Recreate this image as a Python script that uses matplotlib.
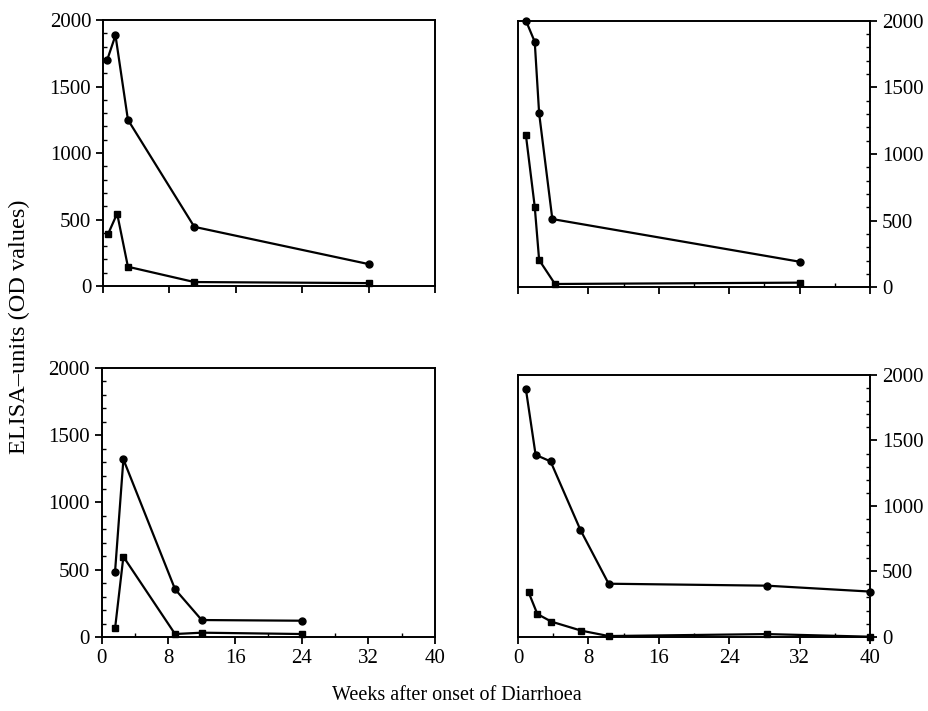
import matplotlib
matplotlib.use("Agg")
import matplotlib.pyplot as plt
from matplotlib.ticker import MultipleLocator

plt.rcParams['font.family'] = ['Liberation Serif', 'DejaVu Serif']

# weeks after onset / ELISA units, one pair of series per patient panel
tl_circ_x = [0.5, 1.5, 3.0, 11.0, 32.0]
tl_circ_y = [1700, 1885, 1250, 445, 165]
tl_sq_x = [0.6, 1.7, 3.0, 11.0, 32.0]
tl_sq_y = [390, 545, 145, 30, 22]

tr_circ_x = [0.9, 1.9, 2.4, 3.9, 32.0]
tr_circ_y = [2000, 1842, 1305, 512, 192]
tr_sq_x = [0.9, 1.9, 2.4, 4.2, 32.0]
tr_sq_y = [1140, 605, 205, 25, 35]

bl_circ_x = [1.6, 2.6, 8.8, 12.0, 24.0]
bl_circ_y = [486, 1321, 355, 126, 121]
bl_sq_x = [1.6, 2.6, 8.8, 12.0, 24.0]
bl_sq_y = [64, 597, 22, 32, 22]

br_circ_x = [0.9, 2.0, 3.7, 7.1, 10.3, 28.3, 40.0]
br_circ_y = [1890, 1390, 1340, 815, 405, 390, 345]
br_sq_x = [1.2, 2.2, 3.8, 7.2, 10.3, 28.3, 40.0]
br_sq_y = [340, 173, 115, 46, 5, 20, 0]

x_ticks = [0, 8, 16, 24, 32, 40]
y_ticks = [0, 500, 1000, 1500, 2000]

fig = plt.figure(figsize=(9.29, 7.11), dpi=100)

panels = [
    ([0.1109, 0.5977, 0.3574, 0.3741], tl_circ_x, tl_circ_y, tl_sq_x, tl_sq_y, 'left', False, False),
    ([0.5576, 0.5959, 0.3789, 0.3750], tr_circ_x, tr_circ_y, tr_sq_x, tr_sq_y, 'right', False, True),
    ([0.1095, 0.1041, 0.3588, 0.3783], bl_circ_x, bl_circ_y, bl_sq_x, bl_sq_y, 'left', True, True),
    ([0.5576, 0.1045, 0.3789, 0.3680], br_circ_x, br_circ_y, br_sq_x, br_sq_y, 'right', True, True),
]

for rect, cx, cy, sx, sy, side, show_x, x_minor in panels:
    ax = fig.add_axes(rect)
    ax.plot(cx, cy, color='black', lw=1.6, marker='o', ms=5, clip_on=False, zorder=3)
    ax.plot(sx, sy, color='black', lw=1.6, marker='s', ms=5, clip_on=False, zorder=3)
    ax.set_xlim(0, 40)
    ax.set_ylim(0, 2000)
    ax.set_xticks(x_ticks)
    ax.set_yticks(y_ticks)
    if x_minor:
        ax.xaxis.set_minor_locator(MultipleLocator(4))
    ax.yaxis.set_minor_locator(MultipleLocator(100))
    for s in ax.spines.values():
        s.set_linewidth(1.4)
    ax.tick_params(which='major', direction='out', length=5, width=1.3, labelsize=15)
    ax.tick_params(which='minor', direction='in', length=3, width=1.0)
    if side == 'right':
        ax.yaxis.tick_right()
    if not show_x:
        ax.tick_params(axis='x', labelbottom=False)

fig.text(0.021, 0.54, 'ELISA\u2013units (OD values)', rotation=90, ha='center', va='center', fontsize=17.5)
fig.text(0.492, 0.022, 'Weeks after onset of Diarrhoea', ha='center', va='center', fontsize=14.5)

fig.savefig('out.png', dpi=100)
